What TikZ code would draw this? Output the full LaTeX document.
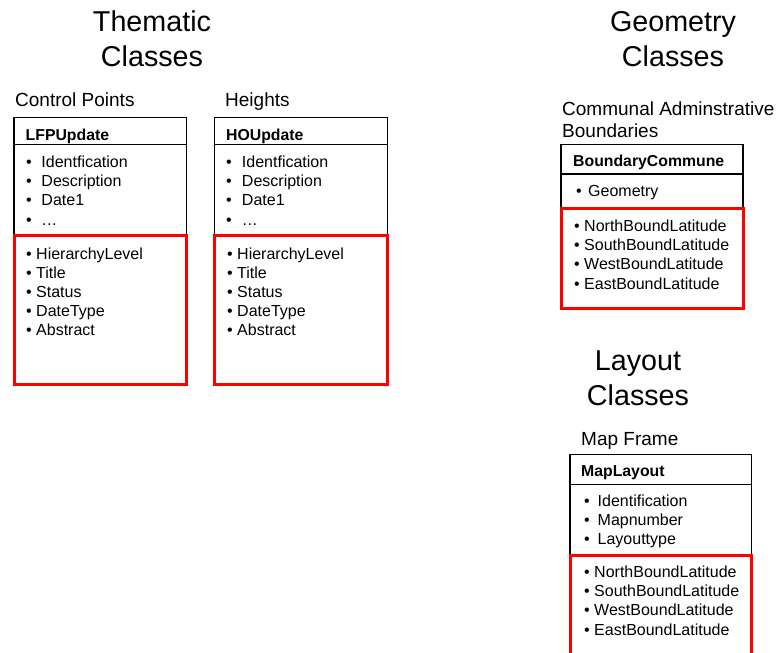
\documentclass[tikz,border=0pt]{standalone}
\usepackage{fontspec}
\setmainfont{Liberation Sans}
\usepackage{xcolor}
\usetikzlibrary{positioning}
\definecolor{markred}{HTML}{FF0000}

\tikzset{
  classbox/.style={draw=black, line width=1.1pt},
  redbox/.style={draw=markred, line width=3pt},
  heading/.style={font=\fontsize{28.7}{35}\selectfont, align=center, anchor=base, inner sep=0pt},
  caption/.style={font=\fontsize{19}{22.7}\selectfont, align=left, anchor=base west, inner sep=0pt},
  classname/.style={font=\fontsize{15.8}{19}\selectfont\bfseries, anchor=base west, inner sep=0pt},
  item/.style={font=\fontsize{16}{19}\selectfont, anchor=base west, inner sep=0pt},
}

\begin{document}
\begin{tikzpicture}[x=1pt, y=-1pt]
  \path[use as bounding box] (0,0) rectangle (779,653);
  \clip (0,0) rectangle (779,653);

  % headings (placed at the baseline of their last line)
  \node[heading] (thematic) at (152,66) {Thematic\\Classes};
  \node[heading] (geometry) at (673,66) {Geometry\\Classes};
  \node[heading] (layout) at (638,405) {Layout\\Classes};

  % Control Points
  \node[caption] (cpcap) at (15,106) {Control Points};
  \draw[classbox] (14,117.7) rectangle (186.5,235.8);
  \draw[classbox] (14,144.3) -- (186.5,144.3);
  \draw[redbox] (14,235.8) rectangle (186.5,384.3);
  \node[classname] (lfp) at (25.5,140) {LFPUpdate};
  \foreach \txt [count=\i] in {Identfication, Description, Date1, …}
    \node[item] (lfpa\i) at (26,{147.7+19.4*\i}) {\makebox[15.3pt][l]{\textbullet}\txt};
  \foreach \txt [count=\i] in {HierarchyLevel, Title, Status, DateType, Abstract}
    \node[item] (lfpb\i) at (26,{240.2+19.1*\i}) {\textbullet{} \txt};

  % Heights
  \node[caption] (hcap) at (225,106) {Heights};
  \draw[classbox] (214.5,117.7) rectangle (387.5,235.8);
  \draw[classbox] (214.5,144.3) -- (387.5,144.3);
  \draw[redbox] (214.5,235.8) rectangle (387.5,384.3);
  \node[classname] (ho) at (226,140) {HOUpdate};
  \foreach \txt [count=\i] in {Identfication, Description, Date1, …}
    \node[item] (hoa\i) at (226,{147.7+19.4*\i}) {\makebox[15.8pt][l]{\textbullet}\txt};
  \foreach \txt [count=\i] in {HierarchyLevel, Title, Status, DateType, Abstract}
    \node[item] (hob\i) at (227,{240.2+19.1*\i}) {\textbullet{} \txt};

  % Communal boundaries
  \node[caption] (bcap) at (562,137.7) {Communal Adminstrative\\Boundaries};
  \draw[classbox] (561,144.3) rectangle (743,208);
  \draw[classbox] (561,174) -- (743,174);
  \draw[redbox] (561,208) rectangle (743,308.3);
  \node[classname] (bc) at (573,166) {BoundaryCommune};
  \node[item] (bca1) at (576,196) {\makebox[12pt][l]{\textbullet}Geometry};
  \foreach \txt [count=\i] in {NorthBoundLatitude, SouthBoundLatitude, WestBoundLatitude, EastBoundLatitude}
    \node[item] (bcb\i) at (574,{212.6+19.1*\i}) {\textbullet{} \txt};

  % Map frame
  \node[caption] (mcap) at (581,445) {Map Frame};
  \draw[classbox] (570,454.3) rectangle (751.5,555.8);
  \draw[classbox] (570,484.3) -- (751.5,484.3);
  \draw[redbox] (570,670) -- (570,555.8) -- (751.5,555.8) -- (751.5,670);
  \node[classname] (ml) at (581,476.7) {MapLayout};
  \foreach \txt [count=\i] in {Identification, Mapnumber, Layouttype}
    \node[item] (mla\i) at (584,{487.8+18.9*\i}) {\makebox[13.5pt][l]{\textbullet}\txt};
  \foreach \txt [count=\i] in {NorthBoundLatitude, SouthBoundLatitude, WestBoundLatitude, EastBoundLatitude}
    \node[item] (mlb\i) at (584,{558.6+19.1*\i}) {\textbullet{} \txt};
\end{tikzpicture}
\end{document}
